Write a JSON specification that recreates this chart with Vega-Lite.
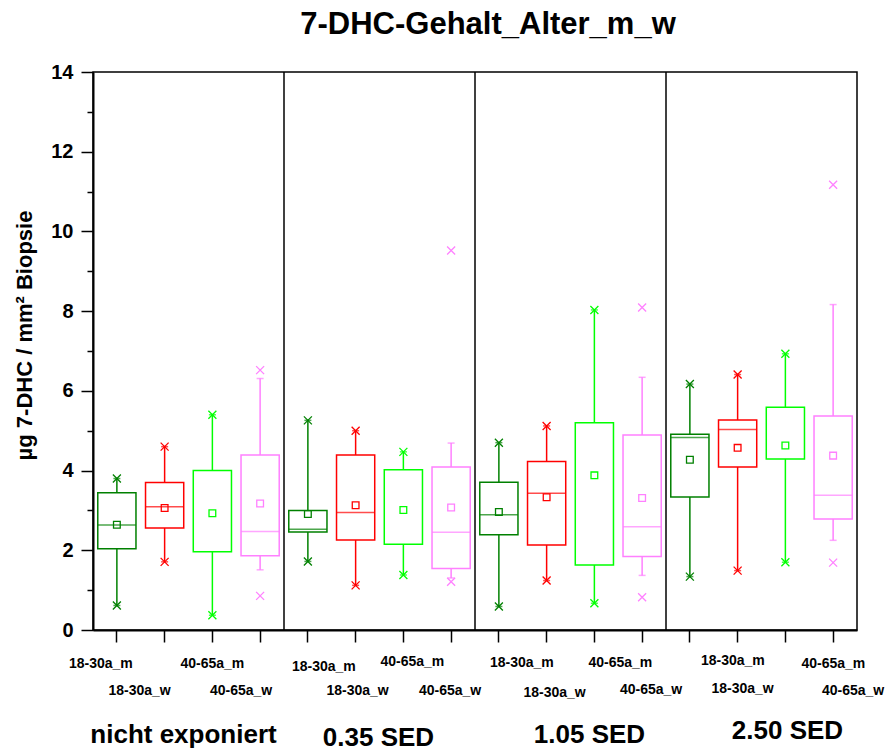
{
  "$schema": "https://vega.github.io/schema/vega-lite/v6.json",
  "width": 764,
  "height": 558,
  "autosize": {"type": "none"},
  "padding": {"left": 93, "top": 72, "right": 29, "bottom": 123},
  "background": "white",
  "config": {
    "font": "Liberation Sans",
    "view": {"stroke": "black", "strokeWidth": 1.5},
    "axis": {"labelColor": "black", "titleColor": "black", "tickColor": "black", "domainColor": "black", "grid": false, "labelFont": "Liberation Sans", "titleFont": "Liberation Sans"}
  },
  "title": {"text": "7-DHC-Gehalt_Alter_m_w", "fontSize": 31, "fontWeight": "bold", "font": "Liberation Sans", "anchor": "middle", "dx": 13, "offset": 21, "color": "black"},
  "datasets": {
    "boxes": [
      {"group": "nicht exponiert", "cat": "18-30a_m", "key": "nicht exponiert|18-30a_m", "min": 0.615, "lo": 0.615, "q1": 2.04, "median": 2.635, "mean": 2.64, "q3": 3.445, "hi": 3.8, "max": 3.8},
      {"group": "nicht exponiert", "cat": "18-30a_w", "key": "nicht exponiert|18-30a_w", "min": 1.71, "lo": 1.71, "q1": 2.56, "median": 3.09, "mean": 3.06, "q3": 3.7, "hi": 4.6, "max": 4.6},
      {"group": "nicht exponiert", "cat": "40-65a_m", "key": "nicht exponiert|40-65a_m", "min": 0.37, "lo": 0.37, "q1": 1.965, "median": null, "mean": 2.93, "q3": 4.0, "hi": 5.4, "max": 5.4},
      {"group": "nicht exponiert", "cat": "40-65a_w", "key": "nicht exponiert|40-65a_w", "min": 0.857, "lo": 1.51, "q1": 1.86, "median": 2.47, "mean": 3.175, "q3": 4.39, "hi": 6.31, "max": 6.52},
      {"group": "0.35 SED", "cat": "18-30a_m", "key": "0.35 SED|18-30a_m", "min": 1.72, "lo": 1.72, "q1": 2.46, "median": 2.53, "mean": 2.91, "q3": 3.0, "hi": 5.26, "max": 5.26},
      {"group": "0.35 SED", "cat": "18-30a_w", "key": "0.35 SED|18-30a_w", "min": 1.12, "lo": 1.12, "q1": 2.26, "median": 2.95, "mean": 3.13, "q3": 4.39, "hi": 5.0, "max": 5.0},
      {"group": "0.35 SED", "cat": "40-65a_m", "key": "0.35 SED|40-65a_m", "min": 1.38, "lo": 1.38, "q1": 2.15, "median": null, "mean": 3.01, "q3": 4.02, "hi": 4.47, "max": 4.47},
      {"group": "0.35 SED", "cat": "40-65a_w", "key": "0.35 SED|40-65a_w", "min": 1.21, "lo": 1.305, "q1": 1.545, "median": 2.45, "mean": 3.075, "q3": 4.09, "hi": 4.69, "max": 9.52},
      {"group": "1.05 SED", "cat": "18-30a_m", "key": "1.05 SED|18-30a_m", "min": 0.59, "lo": 0.59, "q1": 2.39, "median": 2.89, "mean": 2.96, "q3": 3.71, "hi": 4.7, "max": 4.7},
      {"group": "1.05 SED", "cat": "18-30a_w", "key": "1.05 SED|18-30a_w", "min": 1.24, "lo": 1.24, "q1": 2.13, "median": 3.43, "mean": 3.33, "q3": 4.23, "hi": 5.12, "max": 5.12},
      {"group": "1.05 SED", "cat": "40-65a_m", "key": "1.05 SED|40-65a_m", "min": 0.67, "lo": 0.67, "q1": 1.63, "median": null, "mean": 3.88, "q3": 5.2, "hi": 8.03, "max": 8.03},
      {"group": "1.05 SED", "cat": "40-65a_w", "key": "1.05 SED|40-65a_w", "min": 0.82, "lo": 1.37, "q1": 1.845, "median": 2.59, "mean": 3.31, "q3": 4.89, "hi": 6.34, "max": 8.09},
      {"group": "2.50 SED", "cat": "18-30a_m", "key": "2.50 SED|18-30a_m", "min": 1.34, "lo": 1.34, "q1": 3.335, "median": 4.83, "mean": 4.27, "q3": 4.91, "hi": 6.17, "max": 6.17},
      {"group": "2.50 SED", "cat": "18-30a_w", "key": "2.50 SED|18-30a_w", "min": 1.49, "lo": 1.49, "q1": 4.09, "median": 5.03, "mean": 4.57, "q3": 5.27, "hi": 6.41, "max": 6.41},
      {"group": "2.50 SED", "cat": "40-65a_m", "key": "2.50 SED|40-65a_m", "min": 1.7, "lo": 1.7, "q1": 4.29, "median": null, "mean": 4.63, "q3": 5.59, "hi": 6.93, "max": 6.93},
      {"group": "2.50 SED", "cat": "40-65a_w", "key": "2.50 SED|40-65a_w", "min": 1.69, "lo": 2.25, "q1": 2.785, "median": 3.38, "mean": 4.375, "q3": 5.37, "hi": 8.165, "max": 11.17}
    ],
    "groups": [
      {"group": "nicht exponiert"},
      {"group": "0.35 SED"},
      {"group": "1.05 SED"},
      {"group": "2.50 SED"}
    ]
  },
  "layer": [
    {
      "data": {"name": "boxes"},
      "encoding": {
        "x": {
          "field": "key", "type": "nominal", "sort": null,
          "scale": {"paddingInner": 0, "paddingOuter": 0},
          "axis": {
            "orient": "bottom", "title": null, "labelAngle": 0,
            "labelExpr": "split(datum.label, '|')[1]",
            "labelFontSize": 14, "labelFontWeight": "bold", "labelLimit": 0,
            "tickSize": 12, "tickWidth": 1.5, "domainWidth": 2,
            "labelOverlap": false,
            "labelOffset": {"expr": "[-16,-25,0,-19,16,2,9,-1,23,8,26,9,43,5,48,20][indexof(['nicht exponiert|18-30a_m','nicht exponiert|18-30a_w','nicht exponiert|40-65a_m','nicht exponiert|40-65a_w','0.35 SED|18-30a_m','0.35 SED|18-30a_w','0.35 SED|40-65a_m','0.35 SED|40-65a_w','1.05 SED|18-30a_m','1.05 SED|18-30a_w','1.05 SED|40-65a_m','1.05 SED|40-65a_w','2.50 SED|18-30a_m','2.50 SED|18-30a_w','2.50 SED|40-65a_m','2.50 SED|40-65a_w'], datum.value)]"},
            "labelPadding": {"expr": "[14,41,14,41,17,41,12,41,13,43,13,40,11,39,14,41][indexof(['nicht exponiert|18-30a_m','nicht exponiert|18-30a_w','nicht exponiert|40-65a_m','nicht exponiert|40-65a_w','0.35 SED|18-30a_m','0.35 SED|18-30a_w','0.35 SED|40-65a_m','0.35 SED|40-65a_w','1.05 SED|18-30a_m','1.05 SED|18-30a_w','1.05 SED|40-65a_m','1.05 SED|40-65a_w','2.50 SED|18-30a_m','2.50 SED|18-30a_w','2.50 SED|40-65a_m','2.50 SED|40-65a_w'], datum.value)]"}
          }
        }
      },
      "layer": [
        {
          "mark": {"type": "rule", "strokeWidth": 1.5},
          "encoding": {
            "y": {"field": "lo", "type": "quantitative", "scale": {"domain": [0, 14], "nice": false, "zero": true},
              "axis": {"orient": "left", "values": [0, 2, 4, 6, 8, 10, 12, 14], "labelFontSize": 20, "labelFontWeight": "bold", "tickSize": 12, "tickWidth": 1.5, "domainWidth": 2, "labelPadding": 8, "labelFlush": false, "labelOverlap": false,
                "title": "µg 7-DHC / mm² Biopsie", "titleFontSize": 22, "titleFontWeight": "bold", "titlePadding": 14, "titleY": 263}},
            "y2": {"field": "hi"},
            "color": {"field": "cat", "type": "nominal", "scale": {"domain": ["18-30a_m", "18-30a_w", "40-65a_m", "40-65a_w"], "range": ["#008000", "#FF0000", "#00FF00", "#FF80FF"]}, "legend": null}
          }
        },
        {
          "mark": {"type": "bar", "fill": "white", "strokeWidth": 1.5, "width": {"band": 0.8}},
          "encoding": {
            "y": {"field": "q1", "type": "quantitative"},
            "y2": {"field": "q3"},
            "stroke": {"field": "cat", "type": "nominal", "scale": {"domain": ["18-30a_m", "18-30a_w", "40-65a_m", "40-65a_w"], "range": ["#008000", "#FF0000", "#00FF00", "#FF80FF"]}, "legend": null}
          }
        },
        {
          "mark": {"type": "tick", "thickness": 1.5, "size": 38},
          "encoding": {
            "y": {"field": "median", "type": "quantitative"},
            "color": {"field": "cat", "type": "nominal", "legend": null}
          }
        },
        {
          "mark": {"type": "tick", "thickness": 1.5, "size": 7},
          "encoding": {
            "y": {"field": "hi", "type": "quantitative"},
            "color": {"field": "cat", "type": "nominal", "legend": null}
          }
        },
        {
          "mark": {"type": "tick", "thickness": 1.5, "size": 7},
          "encoding": {
            "y": {"field": "lo", "type": "quantitative"},
            "color": {"field": "cat", "type": "nominal", "legend": null}
          }
        },
        {
          "mark": {"type": "point", "shape": "square", "filled": false, "size": 45, "strokeWidth": 1.3, "opacity": 1},
          "encoding": {
            "y": {"field": "mean", "type": "quantitative"},
            "color": {"field": "cat", "type": "nominal", "legend": null}
          }
        },
        {
          "mark": {"type": "point", "shape": "M-1,-1L1,1M-1,1L1,-1", "filled": false, "size": 64, "strokeWidth": 1.3, "opacity": 1},
          "encoding": {
            "y": {"field": "max", "type": "quantitative"},
            "color": {"field": "cat", "type": "nominal", "legend": null}
          }
        },
        {
          "mark": {"type": "point", "shape": "M-1,-1L1,1M-1,1L1,-1", "filled": false, "size": 64, "strokeWidth": 1.3, "opacity": 1},
          "encoding": {
            "y": {"field": "min", "type": "quantitative"},
            "color": {"field": "cat", "type": "nominal", "legend": null}
          }
        }
      ]
    },
    {
      "data": {"name": "groups"},
      "transform": [{"filter": "datum.group != 'nicht exponiert'"}],
      "mark": {"type": "rule", "color": "black", "strokeWidth": 1.5},
      "encoding": {
        "x": {
          "field": "group", "type": "nominal", "bandPosition": 0,
          "scale": {"domain": ["nicht exponiert", "0.35 SED", "1.05 SED", "2.50 SED"], "paddingInner": 0, "paddingOuter": 0},
          "axis": {
            "orient": "bottom", "title": null, "labelAngle": 0, "ticks": false, "domain": false,
            "labelFontSize": 26, "labelFontWeight": "bold", "labelLimit": 0, "labelOverlap": false,
            "labelOffset": {"expr": "[-5,-1,19,26][indexof(['nicht exponiert','0.35 SED','1.05 SED','2.50 SED'], datum.value)]"},
            "labelPadding": {"expr": "[91,94,91,87][indexof(['nicht exponiert','0.35 SED','1.05 SED','2.50 SED'], datum.value)]"}
          }
        },
        "y": {"datum": 0, "type": "quantitative",
          "axis": {"orient": "left", "values": [1, 3, 5, 7, 9, 11, 13], "labels": false, "domain": false, "tickSize": 6, "tickWidth": 1.5, "title": null}},
        "y2": {"datum": 14}
      }
    }
  ],
  "resolve": {"scale": {"x": "independent"}, "axis": {"x": "independent", "y": "independent"}}
}
